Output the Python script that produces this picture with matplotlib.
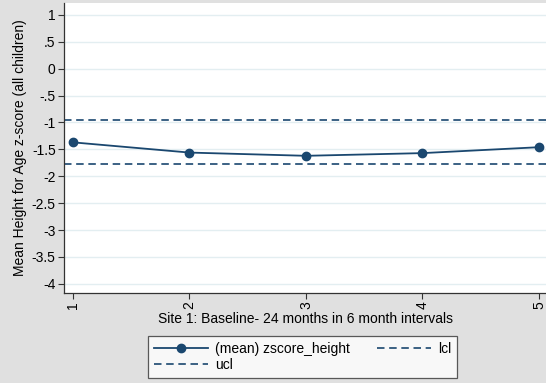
import numpy as np
import matplotlib
matplotlib.use("Agg")
import matplotlib.pyplot as plt
from matplotlib.lines import Line2D

plt.rcParams['font.family'] = ['Liberation Sans', 'DejaVu Sans']

# Mean height-for-age z-score per 6-month interval, with control limits
intervals = [1, 2, 3, 4, 5]
zscore_height = [-1.37, -1.56, -1.62, -1.57, -1.46]
ucl = -0.96
lcl = -1.78
yticks = [1, 0.5, 0, -0.5, -1, -1.5, -2, -2.5, -3, -3.5, -4]
ytick_labels = ['1', '.5', '0', '-.5', '-1', '-1.5', '-2', '-2.5', '-3', '-3.5', '-4']

navy = '#1a476f'
bg = '#e0e0e0'

fig = plt.figure(figsize=(5.46, 3.83), dpi=100, facecolor=bg)
ax = fig.add_axes([64 / 546, 1 - 293 / 383, 1 - 64 / 546, 290 / 383])
ax.set_facecolor('white')

for y in yticks:
    ax.axhline(y, color='#e3eef1', lw=1.0, zorder=1)

dash = (0, (4.5, 2.8))
ax.axhline(ucl, color=navy, lw=1.2, linestyle=dash, zorder=2)
ax.axhline(lcl, color=navy, lw=1.2, linestyle=dash, zorder=2)
ax.plot(intervals, zscore_height, color=navy, lw=1.3, marker='o', ms=6, zorder=3)

ax.set_xlim(0.923, 5.06)
ax.set_ylim(-4.17, 1.22)
ax.set_xticks(intervals)
ax.set_xticklabels([str(i) for i in intervals], rotation=90)
ax.set_yticks(yticks)
ax.set_yticklabels(ytick_labels)
ax.tick_params(axis='both', labelsize=10, length=4, width=0.8, color='#333333', pad=2)

for side in ['top', 'right']:
    ax.spines[side].set_visible(False)
for side in ['left', 'bottom']:
    ax.spines[side].set_color('#333333')
    ax.spines[side].set_linewidth(0.9)

ax.set_ylabel('Mean Height for Age z-score (all children)', fontsize=10, labelpad=3)
ax.set_xlabel('Site 1: Baseline- 24 months in 6 month intervals', fontsize=10, labelpad=2)

handles = [
    Line2D([], [], color=navy, lw=1.3, marker='o', ms=6),
    Line2D([], [], color=navy, lw=1.2, linestyle=dash),
    Line2D([], [], color=navy, lw=1.2, linestyle=dash),
]
labels = ['(mean) zscore_height', 'ucl', 'lcl']
leg = fig.legend(handles, labels, ncol=2, loc='upper left',
                 bbox_to_anchor=(148 / 546, 1 - 336 / 383), borderaxespad=0,
                 frameon=True, fancybox=False, fontsize=10,
                 handlelength=3.9, columnspacing=1.9, labelspacing=0.2,
                 borderpad=0.4, handletextpad=0.55)
leg.get_frame().set_edgecolor('#333333')
leg.get_frame().set_linewidth(0.9)

fig.savefig('out.png', dpi=100, facecolor=bg)
